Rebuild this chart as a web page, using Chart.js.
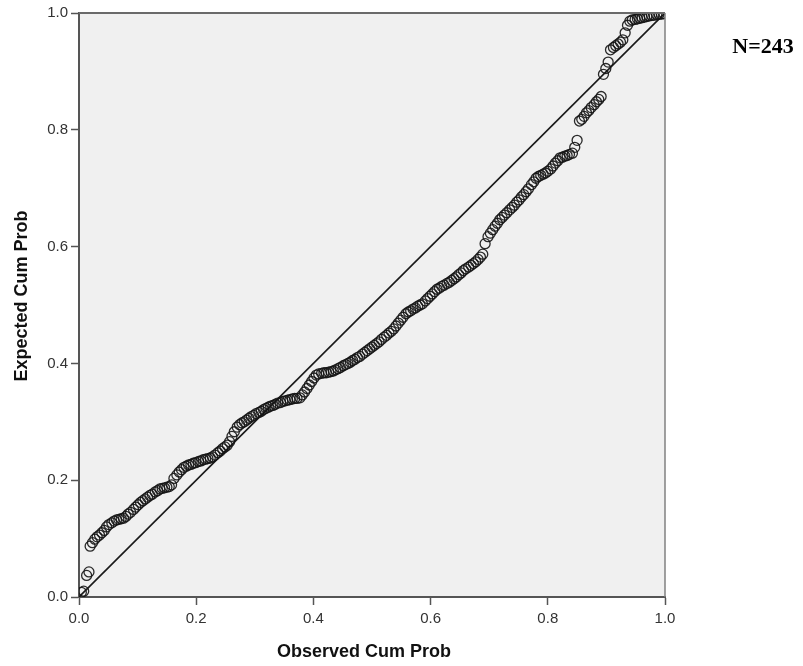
<!DOCTYPE html>
<html>
<head>
<meta charset="utf-8">
<script src="https://cdn.jsdelivr.net/npm/chart.js@4/dist/chart.umd.min.js"></script>
<style>
  html, body { margin: 0; padding: 0; background: #ffffff; }
  #wrap { position: relative; width: 803px; height: 666px; }
  canvas { display: block; }
</style>
</head>
<body>
<div id="wrap"><canvas id="c" width="803" height="666"></canvas></div>
<script>
// Observed cumulative probability (x) of each of the 243 cases
const obsCumProb = [
0.004,0.008,0.013,0.017,0.019,0.023,0.027,0.031,0.035,0.039,
0.043,0.047,0.051,0.056,0.060,0.064,0.068,0.072,0.076,0.080,
0.084,0.088,0.093,0.097,0.101,0.105,0.109,0.113,0.117,0.121,
0.125,0.130,0.134,0.138,0.142,0.146,0.150,0.154,0.158,0.162,
0.167,0.171,0.175,0.179,0.183,0.187,0.191,0.195,0.199,0.204,
0.208,0.212,0.216,0.220,0.224,0.228,0.232,0.237,0.241,0.245,
0.249,0.253,0.257,0.261,0.265,0.270,0.274,0.278,0.282,0.286,
0.290,0.294,0.298,0.302,0.307,0.311,0.315,0.319,0.323,0.327,
0.331,0.335,0.339,0.344,0.348,0.352,0.356,0.360,0.364,0.368,
0.372,0.377,0.381,0.385,0.389,0.393,0.397,0.401,0.405,0.409,
0.414,0.418,0.422,0.426,0.430,0.434,0.438,0.442,0.446,0.451,
0.455,0.459,0.463,0.467,0.471,0.475,0.479,0.484,0.488,0.492,
0.496,0.500,0.504,0.508,0.512,0.516,0.521,0.525,0.529,0.533,
0.537,0.541,0.545,0.549,0.553,0.558,0.562,0.566,0.570,0.574,
0.578,0.582,0.586,0.591,0.595,0.599,0.603,0.607,0.611,0.615,
0.619,0.623,0.628,0.632,0.636,0.640,0.644,0.648,0.652,0.656,
0.660,0.665,0.669,0.673,0.677,0.681,0.685,0.689,0.693,0.698,
0.702,0.706,0.710,0.714,0.718,0.722,0.726,0.730,0.735,0.739,
0.743,0.747,0.751,0.755,0.759,0.763,0.767,0.772,0.776,0.780,
0.784,0.788,0.792,0.796,0.800,0.805,0.809,0.813,0.817,0.821,
0.825,0.829,0.833,0.837,0.842,0.846,0.850,0.854,0.858,0.862,
0.866,0.870,0.874,0.879,0.883,0.887,0.891,0.895,0.899,0.903,
0.907,0.912,0.916,0.920,0.924,0.928,0.932,0.936,0.940,0.944,
0.949,0.953,0.957,0.961,0.965,0.969,0.973,0.977,0.981,0.986,
0.990,0.994,0.998
];
// Expected cumulative probability (y) of each case
const expCumProb = [
0.008,0.010,0.037,0.043,0.087,0.093,0.099,0.103,0.106,0.110,
0.114,0.120,0.124,0.127,0.130,0.132,0.133,0.134,0.135,0.138,
0.142,0.145,0.150,0.154,0.158,0.162,0.165,0.168,0.171,0.174,
0.176,0.180,0.182,0.185,0.186,0.187,0.188,0.189,0.192,0.203,
0.209,0.214,0.218,0.222,0.224,0.226,0.227,0.229,0.230,0.232,
0.233,0.235,0.236,0.237,0.238,0.240,0.243,0.247,0.250,0.254,
0.257,0.260,0.266,0.275,0.283,0.291,0.295,0.298,0.300,0.303,
0.306,0.309,0.311,0.314,0.316,0.318,0.321,0.323,0.325,0.327,
0.328,0.330,0.332,0.333,0.335,0.336,0.337,0.338,0.339,0.340,
0.340,0.341,0.346,0.351,0.357,0.363,0.369,0.375,0.380,0.382,
0.383,0.384,0.384,0.385,0.386,0.387,0.389,0.391,0.393,0.396,
0.398,0.400,0.402,0.405,0.407,0.410,0.412,0.416,0.419,0.422,
0.425,0.428,0.431,0.434,0.437,0.441,0.445,0.448,0.452,0.455,
0.459,0.464,0.469,0.474,0.479,0.485,0.488,0.490,0.493,0.495,
0.498,0.500,0.502,0.507,0.511,0.515,0.519,0.523,0.527,0.529,
0.532,0.534,0.537,0.539,0.542,0.545,0.548,0.552,0.555,0.559,
0.562,0.565,0.568,0.571,0.574,0.578,0.582,0.587,0.605,0.617,
0.623,0.629,0.635,0.640,0.646,0.650,0.654,0.658,0.663,0.667,
0.671,0.676,0.680,0.685,0.689,0.694,0.699,0.706,0.711,0.717,
0.720,0.722,0.724,0.726,0.729,0.733,0.738,0.743,0.747,0.752,
0.753,0.755,0.756,0.758,0.760,0.770,0.782,0.815,0.818,0.823,
0.829,0.833,0.838,0.843,0.848,0.852,0.857,0.895,0.905,0.916,
0.937,0.941,0.944,0.947,0.950,0.954,0.966,0.979,0.986,0.988,
0.989,0.990,0.991,0.992,0.993,0.994,0.995,0.996,0.996,0.997,
0.998,0.998,0.999
];
// Reference (diagonal) line
const refLineX = [0, 1];
const refLineY = [0, 1];
// Axis ticks
const tickValues = [0, 0.2, 0.4, 0.6, 0.8, 1.0];
const tickLabels = ['0.0', '0.2', '0.4', '0.6', '0.8', '1.0'];
const xTitle = 'Observed Cum Prob';
const yTitle = 'Expected Cum Prob';
const nLabel = 'N=243';

const points = obsCumProb.map((x, i) => ({ x: x, y: expCumProb[i] }));
const refLine = refLineX.map((x, i) => ({ x: x, y: refLineY[i] }));

const TITLE_FONT = 'bold 18px "Liberation Sans", Arial, sans-serif';

const plotDecor = {
  id: 'plotDecor',
  beforeDraw(chart) {
    const { ctx, chartArea: a } = chart;
    ctx.save();
    ctx.fillStyle = '#f0f0f0';
    ctx.fillRect(a.left, a.top, a.right - a.left, a.bottom - a.top);
    ctx.restore();
  },
  afterDraw(chart) {
    const { ctx, chartArea: a } = chart;
    ctx.save();
    ctx.strokeStyle = '#6a6a6a';
    ctx.lineWidth = 2;
    ctx.beginPath();
    ctx.moveTo(a.left, a.top);
    ctx.lineTo(a.right, a.top);
    ctx.stroke();
    ctx.lineWidth = 1.5;
    ctx.strokeStyle = '#808080';
    ctx.beginPath();
    ctx.moveTo(a.right, a.top);
    ctx.lineTo(a.right, a.bottom);
    ctx.stroke();

    // axis titles (SPSS centres them slightly towards the origin)
    ctx.fillStyle = '#111111';
    ctx.font = TITLE_FONT;
    ctx.textAlign = 'center';
    ctx.textBaseline = 'middle';
    const xMid = (a.left + a.right) / 2 - 8;
    ctx.fillText(xTitle, xMid, 652);
    const yMid = (a.top + a.bottom) / 2 - 9;
    ctx.save();
    ctx.translate(22, yMid);
    ctx.rotate(-Math.PI / 2);
    ctx.fillText(yTitle, 0, 0);
    ctx.restore();

    // N label
    ctx.fillStyle = '#000';
    ctx.font = 'bold 22px "Liberation Serif", "Times New Roman", serif';
    ctx.textAlign = 'center';
    ctx.textBaseline = 'alphabetic';
    ctx.fillText(nLabel, 763, 53);
    ctx.restore();
  }
};

function setTicks(scale) {
  scale.ticks = tickValues.map(v => ({ value: v }));
}

new Chart(document.getElementById('c'), {
  type: 'scatter',
  data: {
    datasets: [
      {
        type: 'line',
        data: refLine,
        borderColor: '#1a1a1a',
        borderWidth: 1.6,
        pointRadius: 0,
        fill: false,
        order: 2
      },
      {
        data: points,
        pointStyle: 'circle',
        pointRadius: 5,
        pointBorderWidth: 1.3,
        pointBorderColor: 'rgba(20,20,20,0.9)',
        pointBackgroundColor: 'rgba(0,0,0,0)',
        showLine: false,
        order: 1
      }
    ]
  },
  options: {
    responsive: false,
    devicePixelRatio: 1,
    animation: false,
    layout: { padding: { top: 13, right: 138, left: 0, bottom: 0 } },
    plugins: { legend: { display: false }, tooltip: { enabled: false } },
    scales: {
      x: {
        type: 'linear',
        min: 0, max: 1,
        afterBuildTicks: setTicks,
        afterFit(scale) { scale.height = 69; },
        border: { display: true, color: '#555555', width: 2 },
        grid: { drawOnChartArea: false, drawTicks: true, tickLength: 8, tickColor: '#555555', tickWidth: 1.5 },
        ticks: {
          padding: 5,
          color: '#333333',
          font: { family: '"Liberation Sans", Arial, sans-serif', size: 15 },
          callback: (v, i) => tickLabels[i]
        },
        title: { display: false, text: xTitle }
      },
      y: {
        type: 'linear',
        min: 0, max: 1,
        afterBuildTicks: setTicks,
        afterFit(scale) { scale.width = 79; },
        border: { display: true, color: '#555555', width: 2 },
        grid: { drawOnChartArea: false, drawTicks: true, tickLength: 8, tickColor: '#555555', tickWidth: 1.5 },
        ticks: {
          padding: 3,
          color: '#333333',
          font: { family: '"Liberation Sans", Arial, sans-serif', size: 15 },
          callback: (v, i) => tickLabels[i]
        },
        title: { display: false, text: yTitle }
      }
    }
  },
  plugins: [plotDecor]
});
</script>
</body>
</html>
